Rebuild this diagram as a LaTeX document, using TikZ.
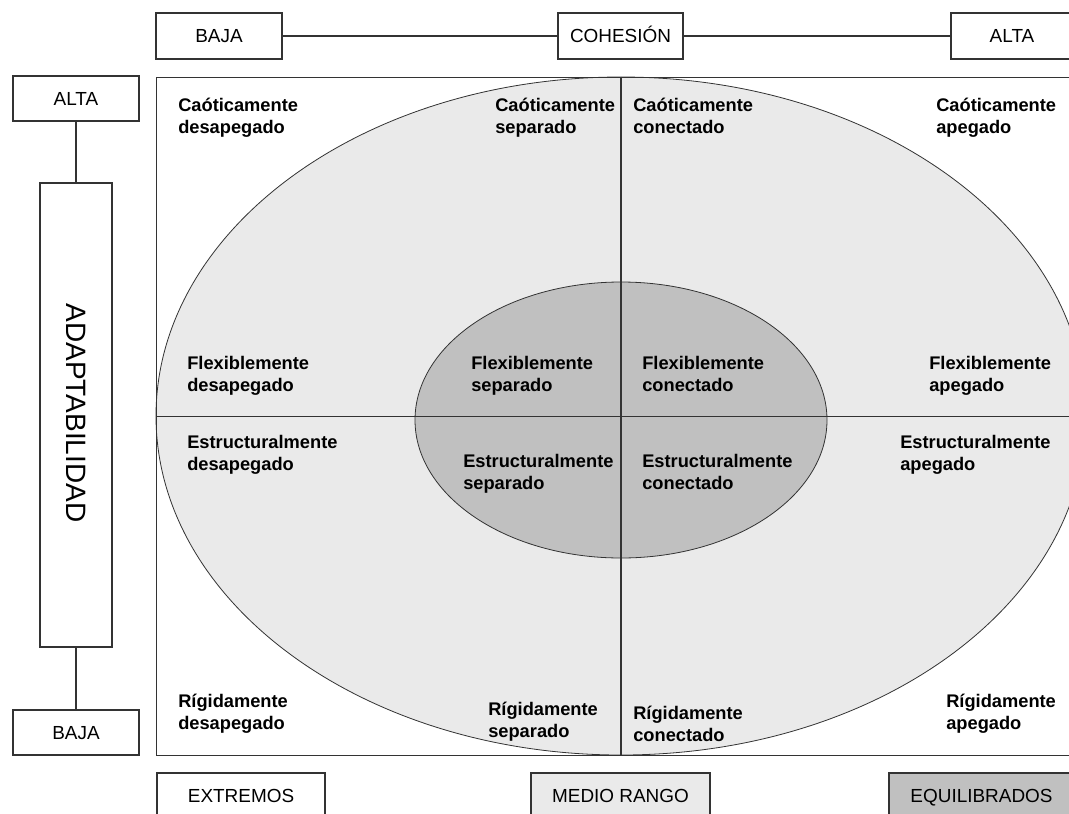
\documentclass[tikz,border=0pt]{standalone}
\usepackage{fontspec}
\setmainfont{Liberation Sans}
\definecolor{lightfill}{HTML}{EAEAEA}
\definecolor{darkfill}{HTML}{C0C0C0}
\definecolor{linegray}{HTML}{333333}
\newcommand\firststrut{\rule{0pt}{12pt}}
\begin{document}
\begin{tikzpicture}[x=0.75pt,y=-0.75pt,
  box/.style={draw=linegray, line width=0.8pt, rectangle, inner sep=0pt,
    font=\fontsize{14.2}{17}\selectfont, text height=10.2pt, text depth=0pt},
  cell/.style={anchor=north west, inner sep=0pt, align=left,
    font=\fontsize{13.7}{16.3}\selectfont\bfseries},
  link/.style={draw=linegray, line width=0.8pt},
  oval/.style={draw=linegray, line width=0.6pt}]
\useasboundingbox (0,0) rectangle (1069,813);
\clip (0,0) rectangle (1069,813);
\fill[white] (0,0) rectangle (1069,813);

% cohesion scale
\node[box, minimum width=94.5pt, minimum height=34.5pt] (cbaja) at (219,36) {BAJA};
\node[box, minimum width=93.75pt, minimum height=34.5pt] (cohesion) at (620.5,36) {COHESIÓN};
\node[box, minimum width=91.5pt, minimum height=34.5pt] (calta) at (1012,36) {ALTA};
\draw[link] (cbaja.east) -- (cohesion.west) (cohesion.east) -- (calta.west);

% adaptability scale
\node[box, minimum width=94.5pt, minimum height=33.75pt] (aalta) at (76,98.5) {ALTA};
\node[box, minimum width=54pt, minimum height=348pt] (adapt) at (76,415) {};
\node[rotate=-90, inner sep=0pt, font=\fontsize{21}{25}\selectfont,
  text height=15pt, text depth=0pt] (adapttext) at (76,413) {ADAPTABILIDAD};
\node[box, minimum width=94.5pt, minimum height=33.75pt] (abaja) at (76,732.5) {BAJA};
\draw[link] (aalta.south) -- (adapt.north) (adapt.south) -- (abaja.north);

% circumplex
\coordinate (ctr) at (621,416);
\coordinate (inner) at (621,420);
\filldraw[fill=lightfill, oval] (ctr) ellipse [x radius=348.75pt, y radius=254.25pt];
\filldraw[fill=darkfill, oval] (inner) ellipse [x radius=154.5pt, y radius=103.5pt];
\node[draw=linegray, line width=0.8pt, anchor=north west, inner sep=0pt,
  minimum width=700.5pt, minimum height=508.5pt] (field) at (156,77) {};
\draw[link] (field.west) -- (field.east);
\draw[link] (field.north -| ctr) -- (field.south -| ctr);

% type labels
\node[cell] (c1) at (178,95) {\firststrut Caóticamente\\desapegado};
\node[cell] (c2) at (495,95) {\firststrut Caóticamente\\separado};
\node[cell] (c3) at (633,95) {\firststrut Caóticamente\\conectado};
\node[cell] (c4) at (936,95) {\firststrut Caóticamente\\apegado};
\node[cell] (f1) at (187,353) {\firststrut Flexiblemente\\desapegado};
\node[cell] (f2) at (471,353) {\firststrut Flexiblemente\\separado};
\node[cell] (f3) at (642,353) {\firststrut Flexiblemente\\conectado};
\node[cell] (f4) at (929,353) {\firststrut Flexiblemente\\apegado};
\node[cell] (e1) at (187,432) {\firststrut Estructuralmente\\desapegado};
\node[cell] (e2) at (463,451) {\firststrut Estructuralmente\\separado};
\node[cell] (e3) at (642,451) {\firststrut Estructuralmente\\conectado};
\node[cell] (e4) at (900,432) {\firststrut Estructuralmente\\apegado};
\node[cell] (r1) at (178,691) {\firststrut Rígidamente\\desapegado};
\node[cell] (r2) at (488,699) {\firststrut Rígidamente\\separado};
\node[cell] (r3) at (633,703) {\firststrut Rígidamente\\conectado};
\node[cell] (r4) at (946,691) {\firststrut Rígidamente\\apegado};

% legend
\node[box, minimum width=126pt, minimum height=33.75pt] (extremos) at (241,795.5) {EXTREMOS};
\node[box, fill=lightfill, minimum width=134.25pt, minimum height=33.75pt] (medio) at (620.5,795.5) {MEDIO RANGO};
\node[box, fill=darkfill, minimum width=138.75pt, minimum height=33.75pt] (equil) at (981.5,795.5) {EQUILIBRADOS};
\end{tikzpicture}
\end{document}
